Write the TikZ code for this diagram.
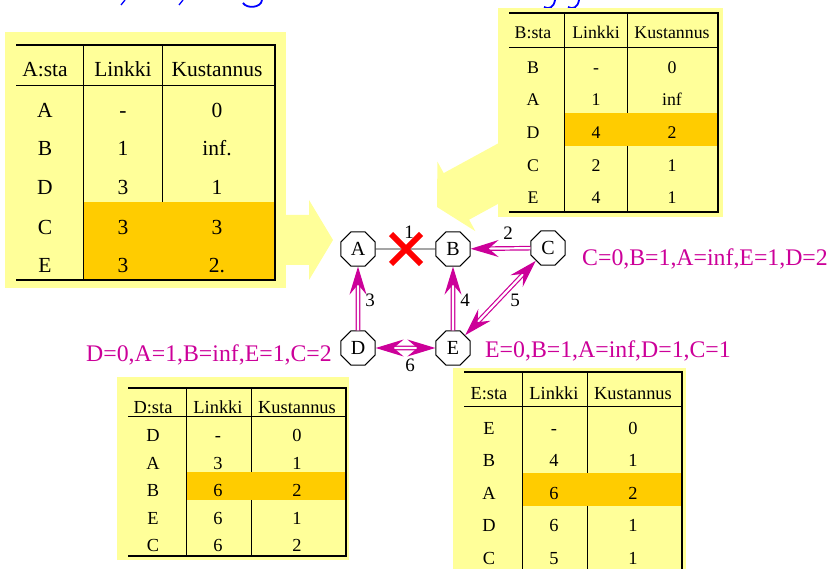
\documentclass[tikz,border=0pt]{standalone}
\usepackage{fontspec}
\setmainfont{Liberation Serif}
\usetikzlibrary{arrows.meta, shapes.geometric}
\definecolor{pale}{HTML}{FFFF99}
\definecolor{amber}{HTML}{FFCC00}
\definecolor{plum}{HTML}{CC0099}
\definecolor{titleblue}{HTML}{0000FF}

\begin{document}
\begin{tikzpicture}[
    x=1pt, y=-1pt,
    router/.style={draw, line width=1.1pt, fill=white, regular polygon, regular polygon sides=8,
      minimum size=37pt, inner sep=0pt, font=\fontsize{20}{22}\selectfont,
      text height=13.2pt, text depth=0pt},
    link/.style={plum, line width=1.2pt, double=white, double distance=2.2pt,
      -{Stealth[length=28pt, width=17pt, inset=10pt]}},
    twoway/.style={link, {Stealth[length=28pt, width=17pt, inset=10pt]}-{Stealth[length=28pt, width=17pt, inset=10pt]}},
    wlabel/.style={font=\fontsize{19}{21}\selectfont, inner sep=0pt, text height=12.5pt, text depth=0pt},
    distvec/.style={plum, font=\fontsize{23.8}{26}\selectfont, inner sep=0pt},
    rule/.style={line width=0.8pt},
    thickrule/.style={line width=2.6pt},
    cell/.style={inner sep=0pt, text depth=0pt},
    cellA/.style={cell, font=\fontsize{21.5}{24}\selectfont, text height=14.2pt},
    cellB/.style={cell, font=\fontsize{17.8}{20}\selectfont, text height=11.7pt},
    cellD/.style={cell, font=\fontsize{18.4}{20}\selectfont, text height=12.1pt},
  ]
  \useasboundingbox (0,0) rectangle (831,569);

  % Title descenders along the top edge
  \draw[titleblue, line width=1.3pt] (125,0) -- (121,5) (183,0) -- (179,5);
  \draw[titleblue, line width=1.8pt] (262,0) .. controls (261,8) and (247,9) .. (243,3);
  \draw[titleblue, line width=1.8pt] (555,0) .. controls (554,7) and (549,10) .. (544,7);
  \draw[titleblue, line width=1.8pt] (579,0) .. controls (578,7) and (573,10) .. (568,7);

  % === Big yellow arrows (tables -> graph) ===
  \fill[pale] (280,215) -- (309,215) -- (309,200) -- (333,240) -- (309,280)
    -- (309,265) -- (280,265) -- cycle;
  \fill[pale] (520,131.5) -- (443.7,173.1) -- (437.4,161.6) -- (437,207)
    -- (475.4,231.2) -- (469.1,219.7) -- (520,191.9) -- cycle;

  % === A:sta table ===
  \fill[pale] (5,32) rectangle (286,288);
  \fill[amber] (83,202) rectangle (275,280);
  \draw[rule] (16,85) -- (275,85) (83,45) -- (83,280) (162,45) -- (162,202);
  \draw[thickrule] (16,45) -- (275,45) -- (275,280) -- (16,280);
  \foreach \k/\a/\b/\c/\y in {0/A:sta/Linkki/Kustannus/69, 1/A/-/0/110, 2/B/1/inf./148,
      3/D/3/1/187, 4/C/3/3/227, 5/E/3/2./265} {
    \node[cellA] (ta\k a) at (45,\y) {\a};
    \node[cellA] (ta\k b) at (123,\y) {\b};
    \node[cellA] (ta\k c) at (217,\y) {\c};
  }

  % === B:sta table ===
  \fill[pale] (498,8) rectangle (723,217);
  \fill[amber] (564,113) rectangle (718,146);
  \draw[rule] (509,47) -- (718,47) (564,13) -- (564,212) (627,13) -- (627,113) (627,146) -- (627,212);
  \draw[thickrule] (509,13) -- (718,13) -- (718,212) -- (509,212);
  \foreach \k/\a/\b/\c/\y in {0/B:sta/Linkki/Kustannus/33, 1/B/-/0/68, 2/A/1/inf/100,
      3/D/4/2/133, 4/C/2/1/166, 5/E/4/1/198} {
    \node[cellB] (tb\k a) at (533,\y) {\a};
    \node[cellB] (tb\k b) at (596,\y) {\b};
    \node[cellB] (tb\k c) at (672,\y) {\c};
  }

  % === D:sta table ===
  \fill[pale] (117,377) rectangle (349,560);
  \fill[amber] (186,472) rectangle (346,500);
  \draw[rule] (128,416) -- (346,416) (186,388) -- (186,556) (251,388) -- (251,472) (251,500) -- (251,556);
  \draw[thickrule] (128,388) -- (346,388) -- (346,556) -- (128,556);
  \foreach \k/\a/\b/\c/\y in {0/D:sta/Linkki/Kustannus/407, 1/D/-/0/435, 2/A/3/1/463,
      3/B/6/2/490, 4/E/6/1/518, 5/C/6/2/545} {
    \node[cellD] (td\k a) at (153,\y) {\a};
    \node[cellD] (td\k b) at (218,\y) {\b};
    \node[cellD] (td\k c) at (297,\y) {\c};
  }

  % === E:sta table ===
  \fill[pale] (453,368) rectangle (686,569);
  \fill[amber] (522,473) rectangle (682,506);
  \draw[rule] (464,406) -- (682,406) (522,372) -- (522,569) (587,372) -- (587,473) (587,506) -- (587,569);
  \draw[thickrule] (464,372) -- (682,372) -- (682,570);
  \foreach \k/\a/\b/\c/\y in {0/E:sta/Linkki/Kustannus/393, 1/E/-/0/428, 2/B/4/1/460,
      3/A/6/2/493, 4/D/6/1/525, 5/C/5/1/558} {
    \node[cellD] (te\k a) at (489,\y) {\a};
    \node[cellD] (te\k b) at (554,\y) {\b};
    \node[cellD] (te\k c) at (633,\y) {\c};
  }

  % === Routers ===
  \node[router] (A) at (358,249) {A};
  \node[router] (B) at (453,249) {B};
  \node[router] (C) at (548,248) {C};
  \node[router] (D) at (358,348) {D};
  \node[router] (E) at (453,348) {E};

  % broken link A-B
  \draw[line width=0.9pt] (A) -- (B);
  \coordinate (cut) at (406,249);
  \draw[red, line width=6pt] ([shift={(-15,-15)}]cut) -- ([shift={(15,15)}]cut)
    ([shift={(-15,15)}]cut) -- ([shift={(15,-15)}]cut);

  % distance vectors sent to the neighbours
  \draw[link] (C) -- (B);
  \draw[link] (D) -- (A);
  \draw[link] (E) -- (B);
  \draw[twoway] (C) -- (E);
  \draw[twoway] (D) -- (E);

  % link costs
  \node[wlabel] (l1) at (409,232) {1};
  \node[wlabel] (l2) at (508,233) {2};
  \node[wlabel] (l3) at (370,300) {3};
  \node[wlabel] (l4) at (465,300) {4};
  \node[wlabel] (l5) at (515,300) {5};
  \node[wlabel] (l6) at (410,365) {6};

  \node[distvec, anchor=base west] (vC) at (582,266) {C=0,B=1,A=inf,E=1,D=2};
  \node[distvec, anchor=base east] (vD) at (332,362) {D=0,A=1,B=inf,E=1,C=2};
  \node[distvec, anchor=base west] (vE) at (485,358) {E=0,B=1,A=inf,D=1,C=1};

\end{tikzpicture}
\end{document}
